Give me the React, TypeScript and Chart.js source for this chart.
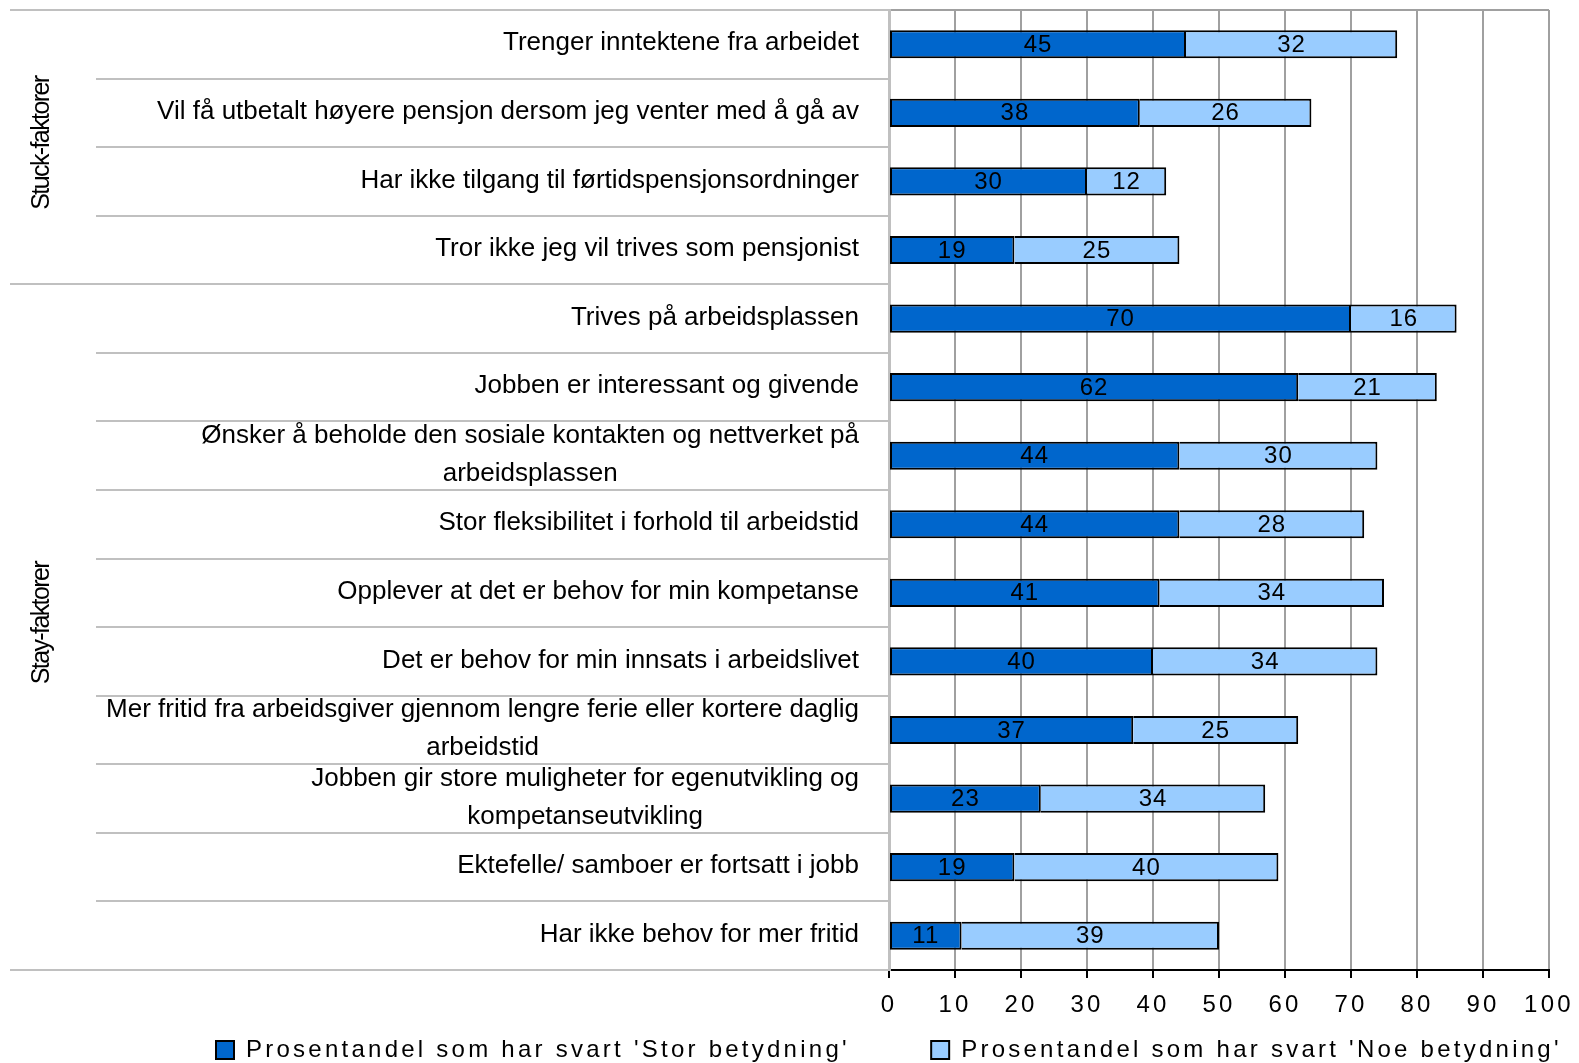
import React, { useEffect, useRef } from 'react';
import { Chart, registerables } from 'chart.js';

Chart.register(...registerables);

// ---------- data ----------
const categories: (string | string[])[] = [
  'Trenger inntektene fra arbeidet',
  'Vil få utbetalt høyere pensjon dersom jeg venter med å gå av',
  'Har ikke tilgang til førtidspensjonsordninger',
  'Tror ikke jeg vil trives som pensjonist',
  'Trives på arbeidsplassen',
  'Jobben er interessant og givende',
  ['Ønsker å beholde den sosiale kontakten og nettverket på', 'arbeidsplassen'],
  'Stor fleksibilitet i forhold til arbeidstid',
  'Opplever at det er behov for min kompetanse',
  'Det er behov for min innsats i arbeidslivet',
  ['Mer fritid fra arbeidsgiver gjennom lengre ferie eller kortere daglig', 'arbeidstid'],
  ['Jobben gir store muligheter for egenutvikling og', 'kompetanseutvikling'],
  'Ektefelle/ samboer er fortsatt i jobb',
  'Har ikke behov for mer fritid',
];

const storBetydning = [45, 38, 30, 19, 70, 62, 44, 44, 41, 40, 37, 23, 19, 11];
const noeBetydning = [32, 26, 12, 25, 16, 21, 30, 28, 34, 34, 25, 34, 40, 39];

const seriesNames = [
  "Prosentandel som har svart 'Stor betydning'",
  "Prosentandel som har svart 'Noe betydning'",
];

const groupNames = ['Stuck-faktorer', 'Stay-faktorer'];
const groupSizes = [4, 10];

const xMin = 0;
const xMax = 100;
const xStep = 10;

// ---------- styles ----------
const FONT = "'Liberation Sans', Arial, Helvetica, sans-serif";
const DARK = '#0066CC';
const LIGHT = '#99CCFF';
const SEP = '#c0c0c0';
const GRID = '#a0a0a0';
const SPACING = '3.25px';

const decorPlugin = {
  id: 'decor',
  beforeLayout(chart: any) {
    chart.ctx.letterSpacing = SPACING;
  },
  beforeDraw(chart: any) {
    const ctx = chart.ctx;
    ctx.letterSpacing = SPACING;
    const y = chart.scales.y;
    const area = chart.chartArea;
    const n = categories.length;
    const groupEdges: number[] = [];
    let acc = 0;
    groupSizes.forEach((s) => {
      groupEdges.push(acc);
      acc += s;
    });
    groupEdges.push(acc);
    ctx.save();
    ctx.lineWidth = 2;
    ctx.strokeStyle = SEP;
    for (let k = 0; k <= n; k++) {
      const py = Math.round(y.getPixelForValue(k - 0.5));
      const x0 = groupEdges.includes(k) ? 10 : 96;
      ctx.beginPath();
      ctx.moveTo(x0, py);
      ctx.lineTo(area.left, py);
      ctx.stroke();
    }
    ctx.strokeStyle = GRID;
    ctx.beginPath();
    ctx.moveTo(area.left, area.top);
    ctx.lineTo(area.right, area.top);
    ctx.stroke();
    ctx.restore();
  },
  afterDatasetsDraw(chart: any) {
    const ctx = chart.ctx;
    ctx.save();
    ctx.letterSpacing = '1px';
    ctx.font = `24px ${FONT}`;
    ctx.fillStyle = '#000';
    ctx.textAlign = 'center';
    ctx.textBaseline = 'middle';
    chart.data.datasets.forEach((ds: any, d: number) => {
      const meta = chart.getDatasetMeta(d);
      meta.data.forEach((bar: any, i: number) => {
        const { x, base, y } = bar.getProps(['x', 'base', 'y'], true);
        ctx.fillText(String(ds.data[i]), (x + base) / 2, y + 1);
      });
    });
    ctx.restore();
  },
  afterDraw(chart: any) {
    const ctx = chart.ctx;
    const y = chart.scales.y;
    ctx.save();
    ctx.letterSpacing = '0px';
    ctx.fillStyle = '#000';
    // category labels
    ctx.font = `26px ${FONT}`;
    ctx.textAlign = 'center';
    ctx.textBaseline = 'middle';
    const lineH = 38.3;
    const rightX = 859;
    categories.forEach((c, i) => {
      const lines = Array.isArray(c) ? c : [c];
      const widths = lines.map((l) => ctx.measureText(l).width);
      const maxW = Math.max(...widths);
      const cx = rightX - maxW / 2;
      const cy = y.getPixelForValue(i) - 1;
      lines.forEach((l, j) => {
        ctx.fillText(l, cx, cy + (j - (lines.length - 1) / 2) * lineH);
      });
    });
    // group labels
    ctx.font = `25px ${FONT}`;
    ctx.letterSpacing = '-1.6px';
    let start = 0;
    groupNames.forEach((g, gi) => {
      const end = start + groupSizes[gi] - 1;
      const top = y.getPixelForValue(start - 0.5);
      const bot = y.getPixelForValue(end + 0.5);
      const cy = (top + bot) / 2 - 4;
      ctx.save();
      ctx.translate(42, cy);
      ctx.rotate(-Math.PI / 2);
      ctx.fillText(g, 0, 0);
      ctx.restore();
      start = end + 1;
    });
    ctx.restore();
  },
};

export default function App() {
  const ref = useRef<HTMLCanvasElement>(null);
  useEffect(() => {
    const canvas = ref.current;
    if (!canvas) return;
    const chart = new Chart(canvas, {
      type: 'bar',
      data: {
        labels: categories as any,
        datasets: [
          {
            label: seriesNames[0],
            data: storBetydning,
            backgroundColor: DARK,
            borderColor: '#000000',
            borderWidth: 2,
            borderSkipped: false,
            barPercentage: 0.41,
            categoryPercentage: 1,
          },
          {
            label: seriesNames[1],
            data: noeBetydning,
            backgroundColor: LIGHT,
            borderColor: '#000000',
            borderWidth: 2,
            borderSkipped: 'start',
            barPercentage: 0.41,
            categoryPercentage: 1,
          },
        ],
      },
      options: {
        indexAxis: 'y',
        responsive: false,
        animation: false,
        layout: { padding: { top: 10, right: 0, bottom: -9, left: 214 } },
        scales: {
          x: {
            type: 'linear',
            stacked: true,
            min: xMin,
            max: xMax,
            ticks: {
              stepSize: xStep,
              color: '#000',
              font: { family: FONT, size: 24 },
              padding: 13,
              maxRotation: 0,
              autoSkip: false,
            },
            grid: { color: GRID, lineWidth: 2, tickLength: 8, tickColor: '#000', drawTicks: true },
            border: { color: '#000', width: 2 },
            afterFit(s: any) {
              s.height = 66;
              s.paddingRight = 30;
            },
          },
          y: {
            type: 'category',
            stacked: true,
            ticks: { display: false },
            grid: { display: false },
            border: { color: SEP, width: 3 },
            afterFit(s: any) {
              s.width = 675;
            },
          },
        },
        plugins: {
          legend: {
            position: 'bottom',
            align: 'start',
            labels: {
              color: '#000',
              font: { family: FONT, size: 24 },
              boxWidth: 18,
              boxHeight: 18,
              padding: 2,
              generateLabels(c: any) {
                const items = (Chart.defaults.plugins.legend.labels as any).generateLabels(c);
                return items.map((it: any, i: number) =>
                  i < items.length - 1 ? { ...it, text: it.text + ' '.repeat(8) } : it
                );
              },
            },
          },
          tooltip: { enabled: false },
        },
      } as any,
      plugins: [decorPlugin as any],
    });
    return () => chart.destroy();
  }, []);
  return (
    <div style={{ position: 'fixed', left: 0, top: 0, width: 1579, height: 1063, background: '#fff' }}>
      <canvas ref={ref} width={1579} height={1063} style={{ display: 'block' }} />
    </div>
  );
}
